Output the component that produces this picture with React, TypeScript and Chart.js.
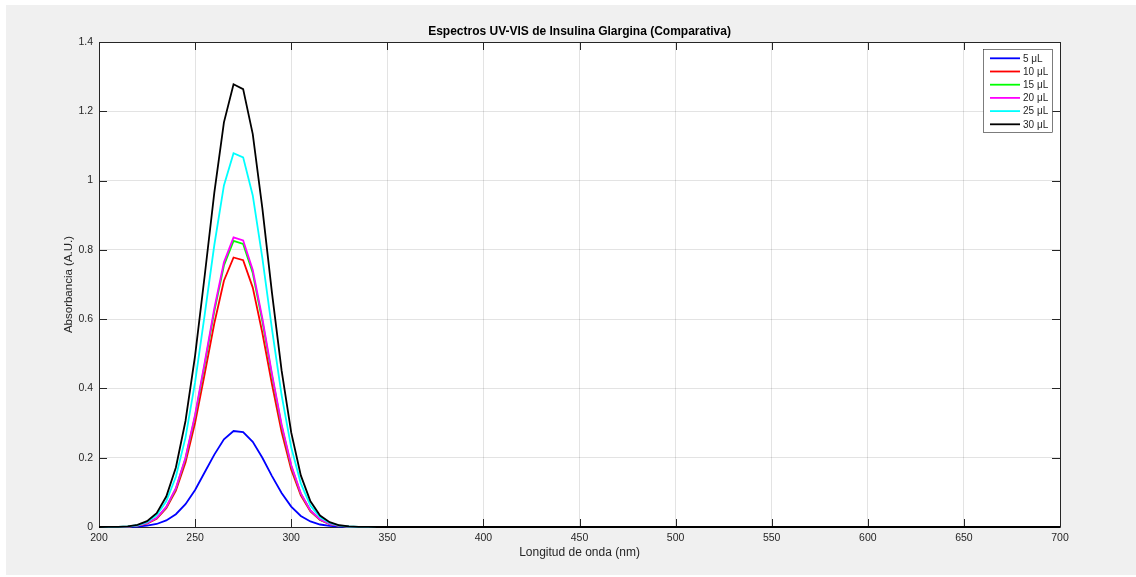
import React, { useEffect, useRef } from "react";
import { Chart, registerables } from "chart.js";

Chart.register(...registerables);

const TITLE = "Espectros UV-VIS de Insulina Glargina (Comparativa)";
const X_LABEL = "Longitud de onda (nm)";
const Y_LABEL = "Absorbancia (A.U.)";

const wavelengths = [
  200, 205, 210, 215, 220, 225, 230, 235, 240, 245,
  250, 255, 260, 265, 270, 275, 280, 285, 290, 295,
  300, 305, 310, 315, 320, 325, 330, 335, 340, 345,
  350, 400, 450, 500, 550, 600, 650, 700,
];

const abs5 = [
  0, 0, 0.0001, 0.0004, 0.0013, 0.0037, 0.0087, 0.019, 0.037, 0.066,
  0.107, 0.158, 0.209, 0.253, 0.277, 0.274, 0.246, 0.2, 0.147, 0.098,
  0.059, 0.032, 0.016, 0.0072, 0.003, 0.0011, 0.0004, 0.0001, 0, 0,
  0, 0, 0, 0, 0, 0, 0, 0,
];
const abs10 = [
  0, 0.0001, 0.0002, 0.0012, 0.0037, 0.01, 0.024, 0.054, 0.105, 0.186,
  0.301, 0.442, 0.588, 0.711, 0.778, 0.77, 0.691, 0.56, 0.412, 0.275,
  0.166, 0.091, 0.045, 0.02, 0.0085, 0.003, 0.001, 0.0003, 0.0001, 0,
  0, 0, 0, 0, 0, 0, 0, 0,
];
const abs15 = [
  0, 0.0001, 0.0002, 0.0013, 0.004, 0.011, 0.026, 0.057, 0.111, 0.198,
  0.32, 0.469, 0.623, 0.755, 0.826, 0.817, 0.733, 0.594, 0.437, 0.292,
  0.176, 0.096, 0.048, 0.021, 0.009, 0.0032, 0.0011, 0.0003, 0.0001, 0,
  0, 0, 0, 0, 0, 0, 0, 0,
];
const abs20 = [
  0, 0.0001, 0.0002, 0.0013, 0.004, 0.011, 0.026, 0.058, 0.112, 0.2,
  0.324, 0.475, 0.631, 0.764, 0.836, 0.827, 0.742, 0.602, 0.442, 0.296,
  0.179, 0.097, 0.048, 0.022, 0.009, 0.0033, 0.0011, 0.0003, 0.0001, 0,
  0, 0, 0, 0, 0, 0, 0, 0,
];
const abs25 = [
  0, 0.0001, 0.0003, 0.0017, 0.005, 0.014, 0.034, 0.074, 0.145, 0.258,
  0.418, 0.613, 0.814, 0.986, 1.079, 1.067, 0.957, 0.776, 0.571, 0.381,
  0.23, 0.126, 0.062, 0.028, 0.012, 0.0042, 0.0014, 0.0004, 0.0001, 0,
  0, 0, 0, 0, 0, 0, 0, 0,
];
const abs30 = [
  0, 0.0001, 0.0003, 0.002, 0.006, 0.017, 0.04, 0.088, 0.172, 0.306,
  0.495, 0.726, 0.965, 1.168, 1.278, 1.264, 1.134, 0.92, 0.676, 0.452,
  0.273, 0.149, 0.074, 0.033, 0.014, 0.005, 0.0017, 0.0005, 0.0001, 0,
  0, 0, 0, 0, 0, 0, 0, 0,
];

const seriesLabels = ["5 μL", "10 μL", "15 μL", "20 μL", "25 μL", "30 μL"];
const seriesValues = [abs5, abs10, abs15, abs20, abs25, abs30];
const seriesColors = ["#0000ff", "#ff0000", "#00ff00", "#ff00ff", "#00ffff", "#000000"];

const X_MIN = 200;
const X_MAX = 700;
const X_STEP = 50;
const Y_MIN = 0;
const Y_MAX = 1.4;
const Y_STEP = 0.2;

const FONT = "'Liberation Sans', Arial, Helvetica, sans-serif";
const AXIS_COLOR = "#262626";
const LINE_W = 1.8;

const backgroundPlugin = {
  id: "figureBackground",
  beforeDraw(chart: any) {
    const { ctx, width, height, chartArea } = chart;
    ctx.save();
    ctx.fillStyle = "#ffffff";
    ctx.fillRect(0, 0, width, height);
    ctx.fillStyle = "#f0f0f0";
    ctx.fillRect(6, 5, width - 6, height - 7);
    ctx.fillStyle = "#ffffff";
    ctx.fillRect(chartArea.left, chartArea.top, chartArea.right - chartArea.left, chartArea.bottom - chartArea.top);
    ctx.restore();
  },
};

const axesBoxPlugin = {
  id: "axesBox",
  beforeDatasetsDraw(chart: any) {
    const { ctx, chartArea, scales } = chart;
    const { left, right, top, bottom } = chartArea;
    ctx.save();
    ctx.strokeStyle = AXIS_COLOR;
    ctx.lineWidth = 1;
    ctx.beginPath();
    ctx.rect(Math.round(left) + 0.5, Math.round(top) + 0.5, Math.round(right - left), Math.round(bottom - top));
    ctx.stroke();
    const tl = 8;
    ctx.beginPath();
    scales.x.ticks.forEach((t: any) => {
      const px = Math.round(scales.x.getPixelForValue(t.value)) + 0.5;
      ctx.moveTo(px, bottom);
      ctx.lineTo(px, bottom - tl);
      ctx.moveTo(px, top);
      ctx.lineTo(px, top + tl);
    });
    scales.y.ticks.forEach((t: any) => {
      const py = Math.round(scales.y.getPixelForValue(t.value)) + 0.5;
      ctx.moveTo(left, py);
      ctx.lineTo(left + tl, py);
      ctx.moveTo(right, py);
      ctx.lineTo(right - tl, py);
    });
    ctx.stroke();
    ctx.restore();
  },
};

const legendPlugin = {
  id: "boxLegend",
  afterDraw(chart: any) {
    const { ctx } = chart;
    ctx.save();
    const x0 = 983.5;
    const y0 = 49.5;
    const w = 69;
    const h = 83;
    ctx.fillStyle = "#ffffff";
    ctx.fillRect(x0, y0, w, h);
    ctx.strokeStyle = AXIS_COLOR;
    ctx.lineWidth = 0.6;
    ctx.strokeRect(x0, y0, w, h);
    ctx.font = `10px ${FONT}`;
    ctx.textBaseline = "middle";
    ctx.textAlign = "left";
    seriesLabels.forEach((lab, i) => {
      const y = 58.3 + i * 13.2;
      ctx.strokeStyle = seriesColors[i];
      ctx.lineWidth = LINE_W;
      ctx.beginPath();
      ctx.moveTo(990, y);
      ctx.lineTo(1020, y);
      ctx.stroke();
      ctx.fillStyle = AXIS_COLOR;
      ctx.fillText(lab, 1023, y + 0.5);
    });
    ctx.restore();
  },
};

function App() {
  const canvasRef = useRef<HTMLCanvasElement | null>(null);

  useEffect(() => {
    const canvas = canvasRef.current;
    if (!canvas) return;
    const n = seriesValues.length;
    const datasets = seriesValues.map((vals, i) => ({
      label: seriesLabels[i],
      data: wavelengths.map((x, j) => ({ x, y: vals[j] })),
      borderColor: seriesColors[i],
      backgroundColor: seriesColors[i],
      borderWidth: LINE_W,
      pointRadius: 0,
      pointHoverRadius: 0,
      tension: 0,
      fill: false,
      clip: false as any,
      order: n - 1 - i,
    }));

    const chart = new Chart(canvas, {
      type: "line",
      data: { datasets },
      options: {
        responsive: false,
        animation: false,
        devicePixelRatio: 1,
        layout: { padding: { left: 0, right: 76, top: 24.6, bottom: 0 } },
        plugins: {
          legend: { display: false },
          tooltip: { enabled: false },
          title: {
            display: true,
            text: TITLE,
            fullSize: false,
            color: "#000000",
            font: { family: FONT, size: 12, weight: "bold", lineHeight: 1.2 },
            padding: { top: 0, bottom: 3 },
          },
        },
        scales: {
          x: {
            type: "linear",
            min: X_MIN,
            max: X_MAX,
            afterFit: (scale: any) => {
              scale.height = 50;
            },
            ticks: {
              stepSize: X_STEP,
              color: AXIS_COLOR,
              font: { family: FONT, size: 10.5 },
              padding: 5,
              maxRotation: 0,
              autoSkip: false,
            },
            grid: { color: "rgba(38,38,38,0.13)", drawTicks: false, lineWidth: 1 },
            border: { display: false },
            title: {
              display: true,
              text: X_LABEL,
              color: AXIS_COLOR,
              font: { family: FONT, size: 12, lineHeight: 1.2 },
              padding: { top: 0, bottom: 17.5 },
            },
          },
          y: {
            type: "linear",
            min: Y_MIN,
            max: Y_MAX,
            afterFit: (scale: any) => {
              scale.width = 99;
            },
            ticks: {
              stepSize: Y_STEP,
              color: AXIS_COLOR,
              font: { family: FONT, size: 10.5 },
              padding: 6,
              callback: (v: any) => String(Number(Number(v).toFixed(1))),
            },
            grid: { color: "rgba(38,38,38,0.13)", drawTicks: false, lineWidth: 1 },
            border: { display: false },
            title: {
              display: true,
              text: Y_LABEL,
              color: AXIS_COLOR,
              font: { family: FONT, size: 11.5, lineHeight: 1.2 },
              padding: { top: 62.1, bottom: 0 },
            },
          },
        },
      },
      plugins: [backgroundPlugin, axesBoxPlugin, legendPlugin],
    });

    return () => {
      chart.destroy();
    };
  }, []);

  return (
    <div style={{ position: "fixed", left: 0, top: 0, width: 1136, height: 577 }}>
      <canvas ref={canvasRef} width={1136} height={577} style={{ display: "block", width: 1136, height: 577 }} />
    </div>
  );
}

export default App;
